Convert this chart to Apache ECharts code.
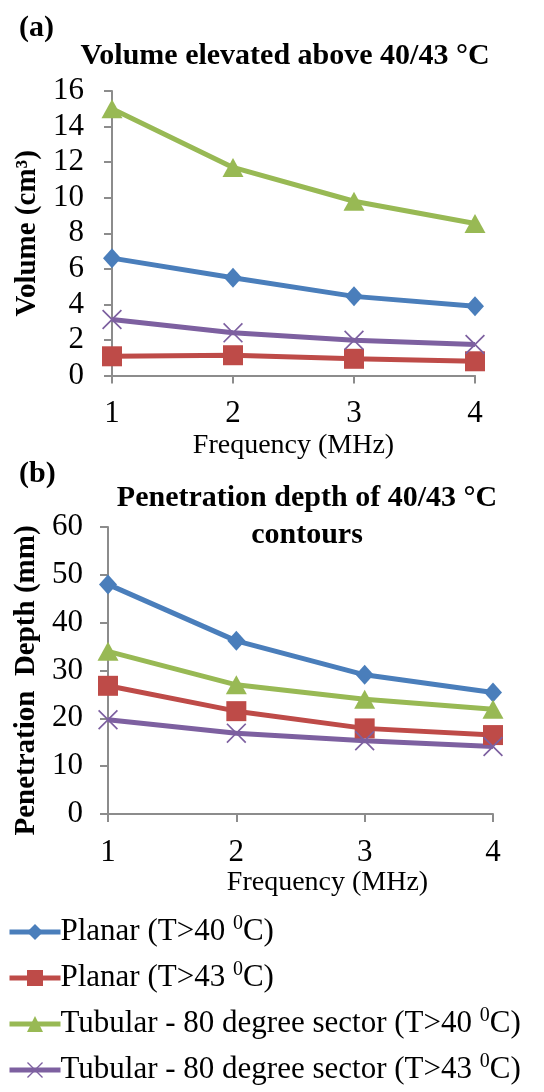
<!DOCTYPE html>
<html>
<head>
<meta charset="utf-8">
<script src="https://cdn.jsdelivr.net/npm/echarts@6/dist/echarts.min.js"></script>
<style>
  html, body { margin: 0; padding: 0; background: #fff; }
  #chart { width: 544px; height: 1092px; }
</style>
</head>
<body>
<div id="chart"></div>
<script>
// Frequency categories (MHz)
const frequencies = ['1', '2', '3', '4'];

// (a) Volume elevated above 40/43 °C, cm³
const volPlanar40 = [6.6, 5.5, 4.45, 3.9];
const volPlanar43 = [1.08, 1.14, 0.94, 0.8];
const volTubular40 = [15.0, 11.7, 9.8, 8.55];
const volTubular43 = [3.15, 2.4, 1.98, 1.74];

// (b) Penetration depth of 40/43 °C contours, mm
const depthPlanar40 = [48.0, 36.2, 29.1, 25.4];
const depthPlanar43 = [26.8, 21.5, 17.9, 16.5];
const depthTubular40 = [34.0, 27.0, 24.0, 21.9];
const depthTubular43 = [19.7, 16.9, 15.3, 14.1];

const seriesNames = [
  'Planar (T>40 0C)',
  'Planar (T>43 0C)',
  'Tubular - 80 degree sector (T>40 0C)',
  'Tubular - 80 degree sector (T>43 0C)'
];
const legendLabels = [
  'Planar (T>40 {sup|0}C)',
  'Planar (T>43 {sup|0}C)',
  'Tubular - 80 degree sector (T>40 {sup|0}C)',
  'Tubular - 80 degree sector (T>43 {sup|0}C)'
];

const colors = ['#4A7EBB', '#BE4B48', '#98B954', '#7D60A0'];
// thin "x" marker
const crossPath = 'path://M0,0.6L0.6,0L5,4.4L9.4,0L10,0.6L5.6,5L10,9.4L9.4,10L5,5.6L0.6,10L0,9.4L4.4,5Z';
const symbols = ['diamond', 'rect', 'triangle', crossPath];
const symbolSizes = [[18, 20], 20, [21, 19], 20];

const serif = 'Liberation Serif';
const axisGray = '#8C8C8C';

function makeSeries(values, idx, grid) {
  return {
    name: seriesNames[idx],
    type: 'line',
    xAxisIndex: grid,
    yAxisIndex: grid,
    data: values,
    symbol: symbols[idx],
    symbolSize: symbolSizes[idx],
    showAllSymbol: true,
    lineStyle: { color: colors[idx], width: 5 },
    itemStyle: { color: colors[idx] },
    emphasis: { disabled: true },
    animation: false
  };
}

function xAxisFor(grid, nameGap, namePad) {
  return {
    type: 'category',
    gridIndex: grid,
    data: frequencies,
    boundaryGap: false,
    name: 'Frequency (MHz)',
    nameLocation: 'middle',
    nameGap: nameGap,
    nameTextStyle: { fontFamily: serif, fontSize: 28, color: '#000', padding: namePad },
    axisLine: { lineStyle: { color: axisGray, width: 2 } },
    axisTick: { show: true, alignWithLabel: true, length: 8, lineStyle: { color: axisGray, width: 2 } },
    axisLabel: { fontFamily: serif, fontSize: 31, color: '#000', margin: 23 },
    splitLine: { show: false }
  };
}

function yAxisFor(grid, max, interval, name, nameGap, labelMargin, namePad) {
  return {
    type: 'value',
    gridIndex: grid,
    min: 0,
    max: max,
    interval: interval,
    name: name,
    nameLocation: 'middle',
    nameGap: nameGap,
    nameTextStyle: { fontFamily: serif, fontSize: 29, fontWeight: 'bold', color: '#000', padding: namePad },
    axisLine: { show: true, lineStyle: { color: axisGray, width: 2 } },
    axisTick: { show: true, length: 8, lineStyle: { color: axisGray, width: 2 } },
    axisLabel: { fontFamily: serif, fontSize: 31, color: '#000', margin: labelMargin },
    splitLine: { show: false }
  };
}

const chart = echarts.init(document.getElementById('chart'), null, { renderer: 'canvas' });

chart.setOption({
  backgroundColor: '#fff',
  animation: false,
  title: [
    {
      text: '(a)', left: 14, top: 8,
      textStyle: { fontFamily: serif, fontSize: 30, fontWeight: 'bold', color: '#000' }
    },
    {
      text: 'Volume elevated above 40/43 °C', left: 280, top: 33, textAlign: 'center',
      textStyle: { fontFamily: serif, fontSize: 30, fontWeight: 'bold', color: '#000', lineHeight: 37 }
    },
    {
      text: '(b)', left: 14, top: 454,
      textStyle: { fontFamily: serif, fontSize: 30, fontWeight: 'bold', color: '#000' }
    },
    {
      text: 'Penetration depth of 40/43 °C\ncontours', left: 302, top: 475, textAlign: 'center',
      textStyle: { fontFamily: serif, fontSize: 30, fontWeight: 'bold', color: '#000', lineHeight: 37 }
    }
  ],
  grid: [
    { left: 112, right: 69, top: 91, bottom: 716.5 },
    { left: 108, right: 51, top: 527, bottom: 278 }
  ],
  xAxis: [
    xAxisFor(0, 56, [0, 0, 0, 0]),
    xAxisFor(1, 54, [0, 0, 0, 54])
  ],
  yAxis: [
    yAxisFor(0, 16, 2, 'Volume (cm³)', 68, 28, [0, 0, 0, 0]),
    yAxisFor(1, 60, 10, 'Penetration  Depth (mm)', 58, 25, [0, 20, 0, 0])
  ],
  legend: {
    orient: 'vertical',
    left: 7,
    top: 914,
    padding: 0,
    itemWidth: 51,
    itemHeight: 20,
    itemGap: 10,
    data: seriesNames,
    selectedMode: false,
    lineStyle: { width: 5 },
    formatter: function (name) {
      return legendLabels[seriesNames.indexOf(name)];
    },
    textStyle: {
      fontFamily: serif, fontSize: 31, color: '#000', lineHeight: 36, padding: [0, 0, 0, -5],
      rich: {
        sup: { fontFamily: serif, fontSize: 20, color: '#000', lineHeight: 36, verticalAlign: 'top' }
      }
    }
  },
  series: [
    makeSeries(volPlanar40, 0, 0),
    makeSeries(volPlanar43, 1, 0),
    makeSeries(volTubular40, 2, 0),
    makeSeries(volTubular43, 3, 0),
    makeSeries(depthPlanar40, 0, 1),
    makeSeries(depthPlanar43, 1, 1),
    makeSeries(depthTubular40, 2, 1),
    makeSeries(depthTubular43, 3, 1)
  ]
});
</script>
</body>
</html>
